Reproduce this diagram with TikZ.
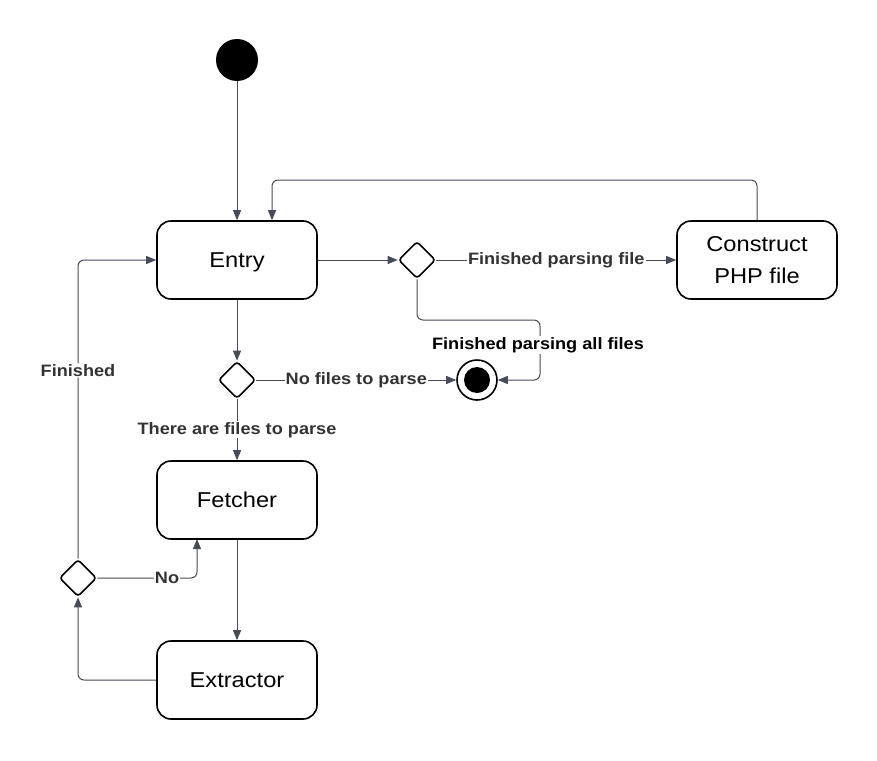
\documentclass[tikz,border=0pt]{standalone}
\usepackage{fontspec}
\setmainfont{Liberation Sans}[FakeStretch=1.1]
\usetikzlibrary{arrows.meta,shapes.geometric}
\definecolor{linec}{HTML}{454B57}
\definecolor{labc}{HTML}{333333}
\begin{document}
\begin{tikzpicture}[x=1pt,y=-1pt,
  statebox/.style={draw=black, line width=1.6pt, rounded corners=14pt, minimum width=160pt, minimum height=78pt, inner sep=2pt, font=\fontsize{21.5}{32}\selectfont, align=center},
  state/.style={statebox, text height=19pt, text depth=4pt},
  choice/.style={diamond, draw=black, line width=1.6pt, minimum width=37pt, minimum height=37pt, inner sep=0pt, rounded corners=3pt},
  conn/.style={draw=linec, line width=1pt, -{Triangle[length=10pt,width=8pt]}},
  lbl/.style={fill=white, font=\bfseries\fontsize{16.5}{19}\selectfont, text=labc, inner sep=1pt}]
\useasboundingbox (0,0) rectangle (877,760);
\node[circle, fill=black, minimum size=42pt, inner sep=0pt] (start) at (237,60) {};
\node[state] (entry) at (237,260) {Entry};
\node[statebox] (php) at (757,260) {Construct\\PHP file};
\node[state] (fetch) at (237,500) {Fetcher};
\node[state] (extr) at (237,680) {Extractor};
\node[choice] (d1) at (417,260) {};
\node[choice] (d2) at (237,380) {};
\node[choice] (d3) at (78,578) {};
\node[circle, draw=black, line width=1.6pt, minimum size=40pt, inner sep=0pt] (end) at (477,380) {};
\node[circle, fill=black, minimum size=26pt, inner sep=0pt] (endin) at (477,380) {};
\coordinate (loopc) at (272,180);
\coordinate (fa) at (540,320);
\coordinate (fn) at (197,539);

\draw[conn] (start) -- (entry);
\draw[conn, rounded corners=6pt] (php.north) |- (loopc) -- (entry.north -| loopc);
\draw[conn] (entry.east) -- (d1.west);
\draw[conn] (d1.east) -- node[lbl]{Finished parsing file} (php.west);
\draw[conn, rounded corners=6pt] (d1.south) |- (fa) |- (end.east);
\node[lbl, text=black] (lall) at (538,345) {Finished parsing all files};
\draw[conn] (entry.south) -- (d2.north);
\draw[conn] (d2.east) -- node[lbl]{No files to parse} (end.west);
\draw[conn] (d2.south) -- node[lbl]{There are files to parse} (fetch.north);
\draw[conn] (fetch.south) -- (extr.north);
\draw[conn, rounded corners=6pt] (extr.west) -| (d3.south);
\draw[conn, rounded corners=6pt] (d3.east) -| node[lbl, pos=0.35]{No} (fn);
\draw[conn, rounded corners=6pt] (d3.north) |- node[lbl, pos=0.315]{Finished} (entry.west);
\end{tikzpicture}
\end{document}
